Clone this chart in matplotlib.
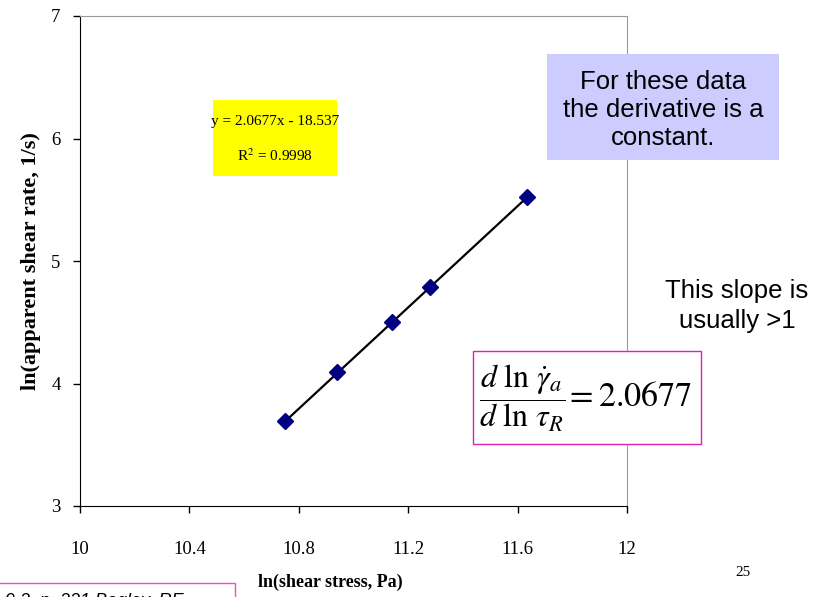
import matplotlib.pyplot as plt
from matplotlib.patches import Rectangle
import numpy as np

# ln(shear stress) vs ln(apparent shear rate)
ln_stress = [10.75, 10.94, 11.14, 11.28, 11.634]
ln_rate = [3.69, 4.09, 4.50, 4.79, 5.52]
slope = 2.0677
intercept = -18.537

x_ticks = [10, 10.4, 10.8, 11.2, 11.6, 12]
x_tick_labels = ["10", "10.4", "10.8", "11.2", "11.6", "12"]
y_ticks = [3, 4, 5, 6, 7]

plt.rcParams['mathtext.fontset'] = 'stix'
serif = 'Liberation Serif'
sans = 'Liberation Sans'

fig = plt.figure(figsize=(8.15, 5.97), dpi=100)
ax = fig.add_axes([80 / 815, 1 - 506 / 597, 547 / 815, 490 / 597])

# linear trend line across the data range
xs = np.array([ln_stress[0], ln_stress[-1]])
ax.plot(xs, slope * xs + intercept, color='black', lw=1.6, zorder=2)
ax.plot(ln_stress, ln_rate, linestyle='none', marker='D', markersize=8,
        color='#000080', zorder=3)

ax.set_xlim(10, 12)
ax.set_ylim(3, 7)
ax.set_xticks(x_ticks)
ax.set_xticklabels(x_tick_labels, fontfamily=serif, fontsize=13.5)
ax.set_yticks(y_ticks)
ax.set_yticklabels([str(v) for v in y_ticks], fontfamily=serif, fontsize=13.5)
ax.tick_params(direction='out', length=5, width=1)
ax.tick_params(axis='x', pad=20)
ax.tick_params(axis='y', pad=9)
for side in ('top', 'right'):
    ax.spines[side].set_color('#999999')
for side in ('left', 'bottom'):
    ax.spines[side].set_color('black')

ax.set_ylabel('ln(apparent shear rate, 1/s)', fontfamily=serif,
              fontweight='bold', fontsize=16, labelpad=7)
fig.text(330 / 815, 1 - 582 / 597, 'ln(shear stress, Pa)', fontfamily=serif,
         fontweight='bold', fontsize=13, ha='center', va='center')

# fit equation box
fig.patches.append(Rectangle((213 / 815, 1 - 176 / 597), 124 / 815, 76 / 597,
                             transform=fig.transFigure, facecolor='#FFFF00',
                             edgecolor='none', zorder=1))
fig.text(275 / 815, 1 - 121 / 597, 'y = 2.0677x - 18.537', fontfamily=serif,
         fontsize=11, ha='center', va='center')
fig.text(275 / 815, 1 - 156 / 597, 'R$^{2}$ = 0.9998', fontfamily=serif,
         fontsize=11, ha='center', va='center')

# note box
fig.patches.append(Rectangle((547 / 815, 1 - 160 / 597), 232 / 815, 106 / 597,
                             transform=fig.transFigure, facecolor='#CCCCFF',
                             edgecolor='none', zorder=1))
fig.text(663 / 815, 1 - 110 / 597, 'For these data\nthe derivative is a\nconstant.',
         fontfamily=sans, fontsize=18.5, ha='center', va='center',
         linespacing=1.2)

fig.text(737 / 815, 1 - 306 / 597, 'This slope is\nusually >1', fontfamily=sans,
         fontsize=18.5, ha='center', va='center', linespacing=1.3)

# derivative box
fig.patches.append(Rectangle((473 / 815, 1 - 444 / 597), 228 / 815, 93 / 597,
                             transform=fig.transFigure, facecolor='white',
                             edgecolor='#E020B0', lw=1, zorder=1))
fig.text(522 / 815, 1 - 398 / 597,
         r'$\dfrac{d\ \ln\,\dot{\gamma}_a}{d\ \ln\,\tau_R}$',
         fontsize=23, ha='center', va='center')
fig.text(565 / 815, 1 - 396 / 597, r'$=2.0677$',
         fontsize=24.5, ha='left', va='center')

# reference box at the bottom edge
fig.patches.append(Rectangle((-5 / 815, -20 / 597), 240 / 815, 34 / 597,
                             transform=fig.transFigure, facecolor='white',
                             edgecolor='#FF44CC', lw=1, zorder=1))
fig.text(-30 / 815, 1 - 610 / 597, 'Fig. 9.2, p. 221 Bagley, RE', fontfamily=sans,
         fontstyle='italic', fontsize=13, ha='left', va='bottom')

fig.text(743 / 815, 1 - 572 / 597, '25', fontfamily=serif, fontsize=11,
         ha='center', va='center')

fig.savefig('out.png', dpi=100)
